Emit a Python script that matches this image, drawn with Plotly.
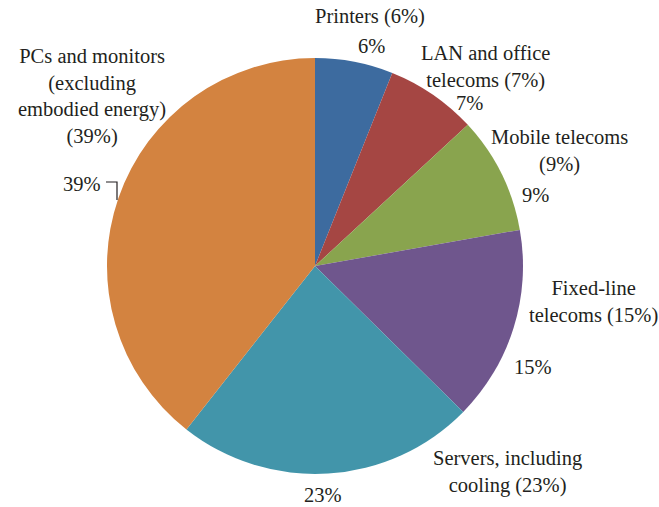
import plotly.graph_objects as go

categories = ["Printers", "LAN and office telecoms", "Mobile telecoms",
              "Fixed-line telecoms", "Servers, including cooling",
              "PCs and monitors (excluding embodied energy)"]
values = [6, 7, 9, 15, 23, 39]
colors = ["#3D6B9F", "#A54643", "#89A44E", "#6F568D", "#4295AA", "#D38340"]

W, H = 659, 507
FONT = "Liberation Serif"
FS = 20.5


def px(x):
    return x / W


def py(y):
    return 1 - y / H


fig = go.Figure(go.Pie(
    labels=categories, values=values, sort=False, direction="clockwise",
    rotation=0, marker=dict(colors=colors, line=dict(width=0)),
    textinfo="none", hoverinfo="label+percent", showlegend=False,
    domain=dict(x=[px(107), px(523)], y=[py(474), py(58)]),
))

name_labels = ["Printers (6%)", "LAN and office<br>telecoms (7%)",
               "Mobile telecoms<br>(9%)", "Fixed-line<br>telecoms (15%)",
               "Servers, including<br>cooling (23%)",
               "PCs and monitors<br>(excluding<br>embodied energy)<br>(39%)"]
name_pos = [(370, 17), (485, 67), (559, 151), (593, 302), (507, 472), (92, 97)]
pct_labels = [f"{v}%" for v in values]
pct_pos = [(371, 46), (469, 103), (535, 195), (533, 367), (323, 495), (82, 184)]

ann = []
for t, (x, y) in zip(name_labels + pct_labels, name_pos + pct_pos):
    ann.append(dict(text=t, x=px(x), y=py(y), xref="paper", yref="paper",
                    showarrow=False, xanchor="center", yanchor="middle",
                    font=dict(family=FONT, size=FS, color="#231F20")))

fig.update_layout(
    width=W, height=H, margin=dict(l=0, r=0, t=0, b=0),
    paper_bgcolor="white", plot_bgcolor="white", annotations=ann,
    shapes=[dict(type="path", xref="paper", yref="paper",
                 path=f"M {px(106)},{py(182)} L {px(117)},{py(182)} L {px(117)},{py(200)}",
                 line=dict(color="#231F20", width=1.2))],
)
fig.write_html("out.html", config={"displayModeBar": False},
               post_script="document.body.style.margin='0';")
